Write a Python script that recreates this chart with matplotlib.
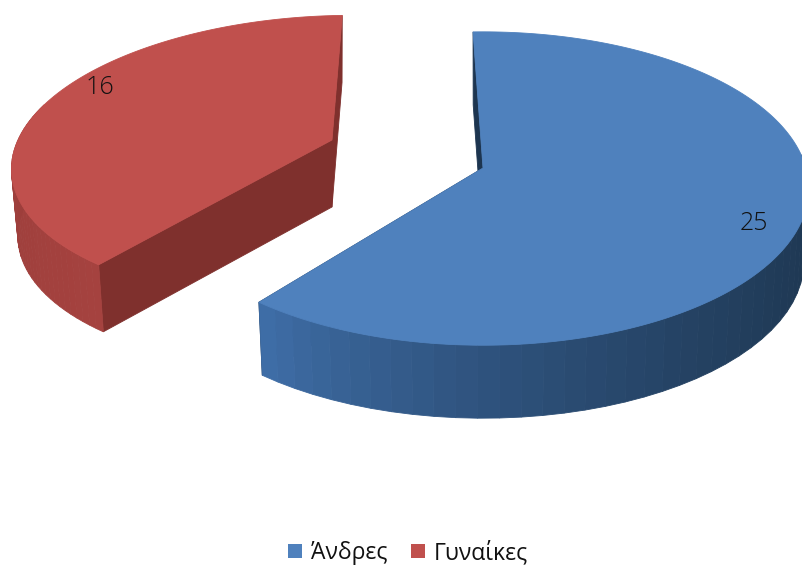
#!/usr/bin/env python3
import numpy as np
import matplotlib
matplotlib.use('Agg')
import matplotlib.pyplot as plt
from matplotlib.colors import to_rgb
from matplotlib.patches import Patch, Polygon

plt.rcParams['font.family'] = ['Open Sans', 'DejaVu Sans']

# data
categories = ['Άνδρες', 'Γυναίκες']
values = [25, 16]

# colours
top_colors = ['#4f81bd', '#c0504d']
wall_colors = ['#1d3550', '#7f302d']


def rim(t, g):
    # point of a slice's rim, with perspective, in pixels
    t = np.radians(t)
    w = 1 + g['p'] * np.cos(t)
    dx = g['rx'] * np.sin(t) / w
    dy = -g['ry'] * np.cos(t) / w
    return g['cx'] + dx + g['shear'] * dy, g['cy'] + dy


def lower(x, y, g):
    # same point at the bottom of the pie's thickness
    return g['cx'] + (x - g['cx']) * g['shrink'], y + g['depth']


def blend(c1, c2, f):
    c1, c2 = np.array(to_rgb(c1)), np.array(to_rgb(c2))
    return tuple(c1 + (c2 - c1) * f)


def draw_slice(ax, t0, t1, side0, side1, side_col0, side_col1, top, wall, g,
               power=1.0):
    cx, cy = g['cx'], g['cy']
    # cut walls
    for t in (t0, t1):
        x, y = rim(t, g)
        x2, y2 = lower(x, y, g)
        ax.add_patch(Polygon([(cx, cy), (x, y), (x2, y2), (cx, cy + g['depth'])],
                             fc=wall, ec=wall, lw=0.6))
    # outer side, strip by strip
    a = max(t0, side0)
    b = min(t1, side1)
    edges = np.linspace(a, b, 40)
    for i in range(len(edges) - 1):
        ta = edges[i]
        tb = edges[i + 1]
        xa, ya = rim(ta, g)
        xb, yb = rim(tb, g)
        xa2, ya2 = lower(xa, ya, g)
        xb2, yb2 = lower(xb, yb, g)
        f = ((i + 0.5) / (len(edges) - 1)) ** power
        col = blend(side_col0, side_col1, f)
        ax.add_patch(Polygon([(xa, ya), (xb, yb), (xb2, yb2), (xa2, ya2)],
                             fc=col, ec=col, lw=0.6))
    # top face
    ts = np.linspace(t0, t1, 200)
    xs, ys = rim(ts, g)
    pts = [(cx, cy)] + list(zip(xs, ys))
    ax.add_patch(Polygon(pts, fc=top, ec=top, lw=0.6))


fig = plt.figure(figsize=(8.03, 5.67), dpi=100)
ax = fig.add_axes([0, 0, 1, 1])
ax.set_xlim(0, 803)
ax.set_ylim(567, 0)
ax.axis('off')

start = -2
total = sum(values)
split = start + 360.0 * values[0] / total
end = start + 360.0

geo_blue = dict(cx=483, cy=168, rx=323, ry=154, p=0.131, shear=0.0,
                shrink=0.985, depth=73)
geo_red = dict(cx=332, cy=140, rx=314, ry=141, p=0.131, shear=-0.16,
               shrink=0.98, depth=67)

draw_slice(ax, split, end, split, 285, '#a5423f', '#9a3d3a',
           top_colors[1], wall_colors[1], geo_red)
# the +1 keeps the cut where the perspective of the reference puts it
draw_slice(ax, start, split + 1, 85, split + 1, '#1e3752', '#3f6ea8',
           top_colors[0], wall_colors[0], geo_blue, power=2.0)

# data labels
ax.text(754, 224, str(values[0]), fontsize=18, ha='center', va='center',
        color='#111111', fontweight='light')
ax.text(100, 88, str(values[1]), fontsize=18, ha='center', va='center',
        color='#111111', fontweight='light')

handles = [Patch(fc=top_colors[0], ec='none'), Patch(fc=top_colors[1], ec='none')]
fig.legend(handles, categories, loc='lower center', bbox_to_anchor=(0.508, -0.033),
           ncol=2, frameon=False, fontsize=16.5, handlelength=0.62,
           handleheight=0.62, handletextpad=0.4, columnspacing=1.0,
           labelcolor='#111111')

fig.savefig('out.png', dpi=100)
